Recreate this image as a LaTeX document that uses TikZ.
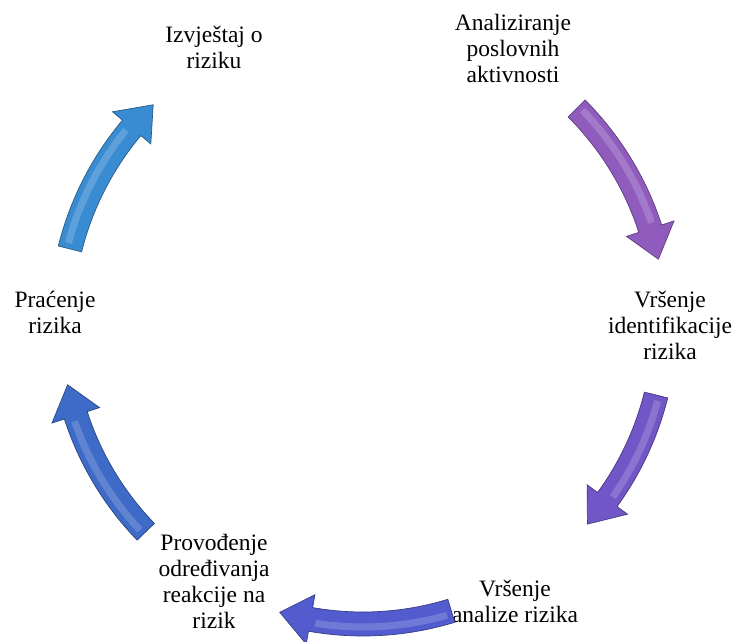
\documentclass[tikz,border=0pt]{standalone}
\usepackage{fontspec}
\setmainfont{Liberation Serif}
\usetikzlibrary{positioning}
\definecolor{cikA}{RGB}{143,92,190}
\definecolor{cikB}{RGB}{112,86,198}
\definecolor{cikC}{RGB}{82,92,206}
\definecolor{cikD}{RGB}{62,106,200}
\definecolor{cikE}{RGB}{58,140,210}
\tikzset{
	every node/.style={
		align=center,
	},
	korak/.style={font=\fontsize{23.5}{26}\selectfont, inner sep=0pt},
}
% curved block arrow: start angle, tip angle, colour
\newcommand{\strelica}[3]{%
	\fill[#3, draw=#3!65!black, line width=0.7pt]
		(#1:314pt) arc[start angle=#1, end angle=#2+6, radius=314pt]
		-- (#2+6:327pt) -- (#2:302pt) -- (#2+6:277pt) -- (#2+6:290pt)
		arc[start angle=#2+6, end angle=#1, radius=290pt] -- cycle;
	\draw[white, opacity=0.18, line width=7pt]
		(#1-1:305pt) arc[start angle=#1-1, end angle=#2+7, radius=305pt];
}

\begin{document}
\begin{tikzpicture}[x=1pt, y=1pt]
    \useasboundingbox (0,0) rectangle (734,642);

    \node (an) [korak] at (513,594) {Analiziranje\\poslovnih\\aktivnosti};
    \node (vi) [korak] at (670,317) {Vršenje\\identifikacije\\rizika};
    \node (va) [korak] at (515,41) {Vršenje\\analize rizika};
    \node (po) [korak] at (214,61) {Provođenje\\određivanja\\reakcije na\\rizik};
    \node (pr) [korak] at (55,330) {Praćenje\\rizika};
    \node (iz) [korak] at (214,595) {Izvještaj o\\riziku};

    \begin{scope}[shift={(363,320)}]
        \strelica{45}{12}{cikA}
        \strelica{-14}{-42}{cikB}
        \strelica{-73}{-106}{cikC}
        \strelica{-136}{-168}{cikD}
        \strelica{166}{134}{cikE}
    \end{scope}

\end{tikzpicture}
\end{document}
